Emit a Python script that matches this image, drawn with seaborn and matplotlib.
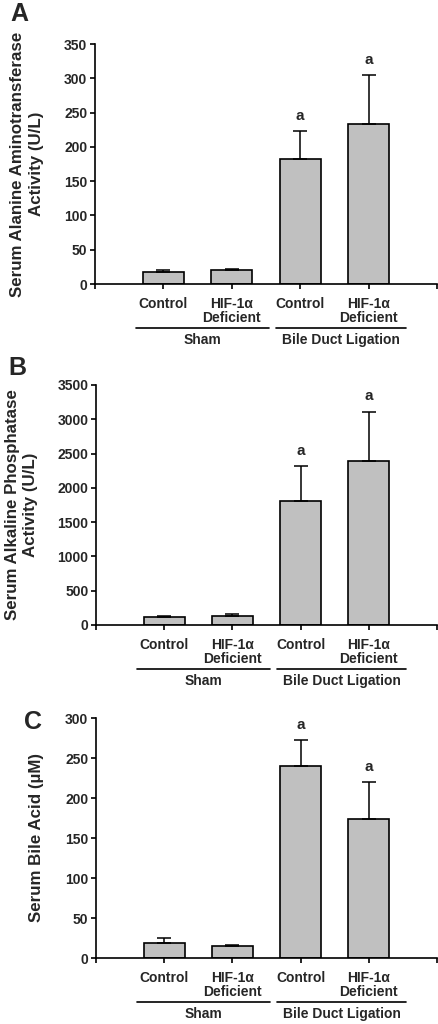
import numpy as np
import pandas as pd
import matplotlib
matplotlib.use('Agg')
import matplotlib.pyplot as plt
import seaborn as sns

sns.set_style('ticks')
plt.rcParams['font.family'] = ['Liberation Sans', 'DejaVu Sans']
plt.rcParams['font.weight'] = 'bold'

# Data
groups = ['Sham', 'Sham', 'Bile Duct Ligation', 'Bile Duct Ligation']
genotype = ['Control', 'HIF-1α\nDeficient', 'Control', 'HIF-1α\nDeficient']
positions = [1, 2, 3, 4]

alt_mean = [18, 20, 182, 234]
alt_err = [2.5, 2, 41, 71]

alp_mean = [122, 136, 1806, 2395]
alp_err = [9, 20, 511, 716]

bile_mean = [19, 15, 240, 174]
bile_err = [5.5, 1.7, 32, 46]

signif = ['', '', 'a', 'a']

panels = [
    ('A', alt_mean, alt_err, 'Serum Alanine Aminotransferase\nActivity (U/L)', np.arange(0, 351, 50), 350),
    ('B', alp_mean, alp_err, 'Serum Alkaline Phosphatase\nActivity (U/L)', np.arange(0, 3501, 500), 3500),
    ('C', bile_mean, bile_err, 'Serum Bile Acid (µM)', np.arange(0, 301, 50), 300),
]

fig = plt.figure(figsize=(4.38, 10.24), dpi=100)
W, H = 438, 1024
# axes boxes in pixels: left, bottom(0 line), top
boxes = [(95, 284, 44), (96, 625, 385), (96, 958, 718)]
ylab_x = [27, 22, 37]
letter_pos = [(19, 14), (17, 368), (33, 722)]

for (letter, mean, err, ylabel, yticks, ymax), (lx, by, ty), yx, (px, py) in zip(panels, boxes, ylab_x, letter_pos):
    ax = fig.add_axes([lx / W, 1 - by / H, (437 - lx) / W, (by - ty) / H])
    df = pd.DataFrame({'pos': positions, 'value': mean})
    sns.barplot(data=df, x='pos', y='value', native_scale=True, width=0.6,
                color='#c0c0c0', saturation=1, edgecolor='black', linewidth=1.2,
                errorbar=None, ax=ax)
    ax.errorbar(positions, mean, yerr=[np.zeros(4), err], fmt='none',
                ecolor='black', elinewidth=1.1, capsize=5, capthick=1.1)
    for x, m, e, s in zip(positions, mean, err, signif):
        if s:
            ax.annotate(s, (x, m + e), xytext=(0, 6), textcoords='offset points',
                        ha='center', va='bottom', fontsize=11, fontweight='bold')

    ax.set_xlim(0, 5)
    ax.set_ylim(0, ymax)
    ax.set_yticks(yticks)
    ax.set_yticklabels([str(int(t)) for t in yticks], fontsize=10, fontweight='bold')
    ax.set_xticks([0, 1, 2, 3, 4, 5])
    ax.set_xticklabels([''] + genotype + [''], fontsize=10, fontweight='bold')
    for lab in ax.get_xticklabels():
        lab.set_linespacing(0.95)
    ax.tick_params(axis='both', length=3.5, width=1.2, color='black')
    ax.tick_params(axis='x', pad=6)
    ax.tick_params(axis='y', pad=2)
    ax.set_xlabel('')
    ax.set_ylabel('')
    sns.despine(ax=ax)
    for sp in ['left', 'bottom']:
        ax.spines[sp].set_linewidth(1.2)
        ax.spines[sp].set_color('black')

    # group brackets under the tick labels
    for x0, x1, name in [(0.6, 2.55, 'Sham'), (2.65, 4.55, 'Bile Duct Ligation')]:
        ax.plot([x0, x1], [-0.185 * ymax, -0.185 * ymax], color='black', lw=1.2,
                clip_on=False, transform=ax.transData)
        ax.text((x0 + x1) / 2, -0.205 * ymax, name, ha='center', va='top',
                fontsize=10, fontweight='bold')

    fig.text(yx / W, 1 - (by + ty) / 2 / H, ylabel, rotation=90, ha='center', va='center',
             fontsize=12.2, fontweight='bold', linespacing=1.25)
    fig.text(px / W, 1 - py / H, letter, ha='center', va='center', fontsize=18, fontweight='bold')

fig.savefig('out.png', dpi=100)
